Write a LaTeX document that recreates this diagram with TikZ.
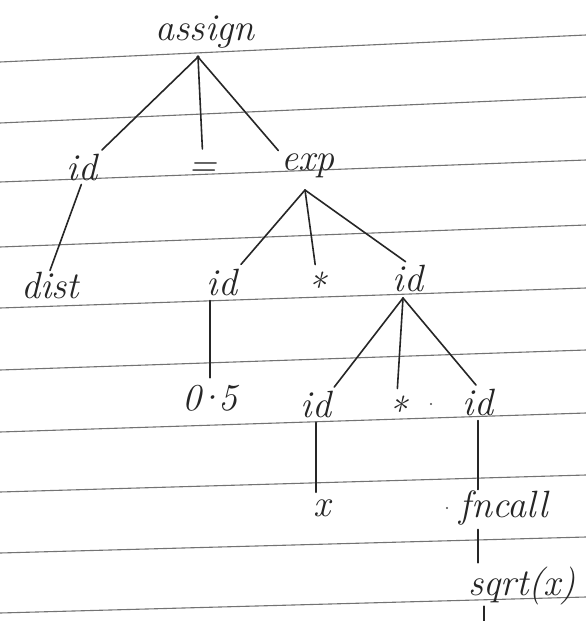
\documentclass[tikz,border=0pt]{standalone}
\begin{document}
\begin{tikzpicture}[x=1pt,y=-1pt,
  word/.style={font=\fontsize{38}{42}\selectfont\itshape, text=black!85, inner sep=1pt},
  edge/.style={draw=black!85, line width=1.6pt, line cap=round},
  rule/.style={draw=black!55, line width=1.1pt}]
  \useasboundingbox[fill=white] (0,0) rectangle (586,621);
  % ruled paper
  \foreach \l/\r in {62/35, 123/97, 182/160, 247/225, 308/288, 370/350, 432/413, 492/475, 553/537, 613/597}
    \draw[rule] (0,\l) -- (586,\r);
  % tree labels
  \node[word] (assign) at (205,32) {assign};
  \node[word] (id1) at (82,168) {id};
  \node[word] (eq) at (203,170) {=};
  \node[word] (exp) at (308,166) {exp};
  \node[word] (dist) at (50,285) {dist};
  \node[word] (id2) at (222,282) {id};
  \node[word] (star1) at (316,286) {*};
  \node[word] (id3) at (408,278) {id};
  \node[word] (half) at (210,398) {0\kern-6pt\textperiodcentered\kern-6pt5};
  \node[word] (id4) at (316,404) {id};
  \node[word] (star2) at (397,410) {*};
  \node[word] (id5) at (478,402) {id};
  \node[word] (x) at (322,508) {x};
  \node[word] (fncall) at (504,508) {fncall};
  \node[word] (sqrt) at (522,586) {sqrt(x)};
  % branch points
  \coordinate (r0) at (198,57);
  \coordinate (r1) at (305,190);
  \coordinate (r2) at (403,298);
  \coordinate (tail) at (484,621);
  \fill[black!85] (r0) circle (1.8pt);
  % stray pen dots
  \fill[black!70] (431,404) circle (1.2pt);
  \fill[black!70] (447,508) circle (1.2pt);
  % edges
  \draw[edge, shorten >=5pt] (r0) -- (id1.north east);
  \draw[edge, shorten >=13pt] (r0) -- (eq.north);
  \draw[edge, shorten >=3pt] (r0) -- (exp.north west);
  \draw[edge, shorten <=2pt] (id1.south) -- (dist.north);
  \draw[edge, shorten >=4pt] (r1) -- (id2.north east);
  \draw[edge, shorten >=6pt] (r1) -- (star1.north);
  \draw[edge, shorten >=3pt] (r1) -- (id3.north);
  \draw[edge, shorten <=4pt, shorten >=6pt] (id2.south west -| half.north) -- (half.north);
  \draw[edge, shorten >=3pt] (r2) -- (id4.north east);
  \draw[edge, shorten >=6pt] (r2) -- (star2.north);
  \draw[edge, shorten >=3pt] (r2) -- (id5.north);
  \draw[edge, shorten <=4pt, shorten >=6pt] (id4.south) -- (id4.south |- x.north);
  \draw[edge, shorten <=4pt] (id5.south) -- (fncall.north west -| id5.south);
  \draw[edge, shorten <=3pt, shorten >=3pt] (fncall.south -| id5.south) -- (sqrt.north -| id5.south);
  \draw[edge] (sqrt.south -| tail) -- (tail);
\end{tikzpicture}
\end{document}
